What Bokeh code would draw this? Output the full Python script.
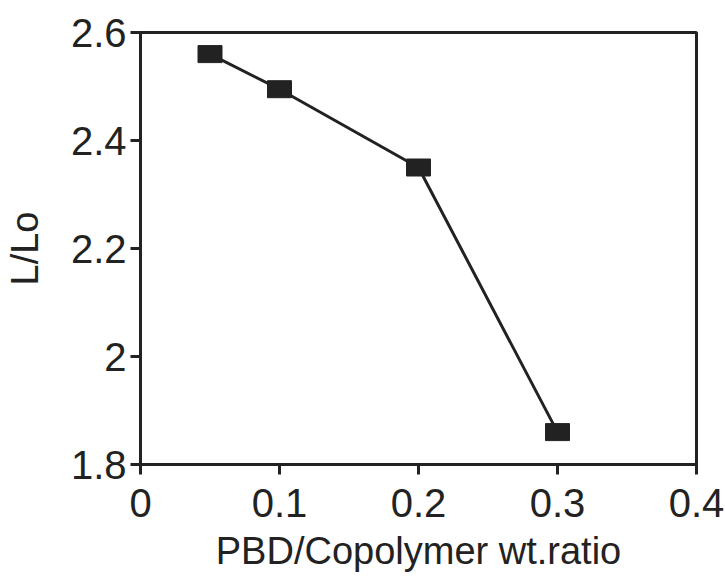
from bokeh.plotting import figure
from bokeh.models import FixedTicker, CustomJSTickFormatter, Range1d, ColumnDataSource
from bokeh.embed import file_html
from bokeh.resources import INLINE

ratio = [0.05, 0.1, 0.2, 0.3]
l_lo = [2.56, 2.495, 2.35, 1.86]
x_ticks = [0, 0.1, 0.2, 0.3, 0.4]
y_ticks = [1.8, 2.0, 2.2, 2.4, 2.6]

INK = "#222222"
FONT = "Liberation Sans"

src = ColumnDataSource(dict(x=ratio, y=l_lo))

p = figure(width=725, height=579, output_backend="svg", toolbar_location=None,
           x_range=Range1d(0, 0.4), y_range=Range1d(1.8, 2.6),
           min_border_left=140, min_border_right=29, min_border_top=32, min_border_bottom=115)

p.grid.visible = False
p.background_fill_color = "white"
p.border_fill_color = "white"
p.outline_line_color = INK
p.outline_line_width = 3

fmt = CustomJSTickFormatter(code="return tick.toFixed(1).replace(/\\.0$/, '');")
for ax, ticks in ((p.xaxis[0], x_ticks), (p.yaxis[0], y_ticks)):
    ax.ticker = FixedTicker(ticks=ticks)
    ax.formatter = fmt
    ax.minor_tick_line_color = None
    ax.major_tick_in = 0
    ax.major_tick_out = 10
    ax.major_tick_line_width = 3
    ax.major_tick_line_color = INK
    ax.axis_line_width = 3
    ax.axis_line_color = INK
    ax.major_label_text_font = FONT
    ax.major_label_text_font_size = "40px"
    ax.major_label_text_color = INK
    ax.axis_label_text_font = FONT
    ax.axis_label_text_font_size = "38px"
    ax.axis_label_text_font_style = "normal"
    ax.axis_label_text_color = INK

p.xaxis.axis_label = "PBD/Copolymer wt.ratio"
p.yaxis.axis_label = "L/Lo"
p.xaxis.major_label_standoff = 14
p.yaxis.major_label_standoff = 4
p.xaxis.axis_label_standoff = 10
p.yaxis.axis_label_standoff = 22

p.line("x", "y", source=src, line_color=INK, line_width=3)
p.rect("x", "y", width=24, height=17, width_units="screen", height_units="screen",
       source=src, fill_color=INK, line_color=INK)

open("out.html", "w").write(file_html(p, INLINE))
